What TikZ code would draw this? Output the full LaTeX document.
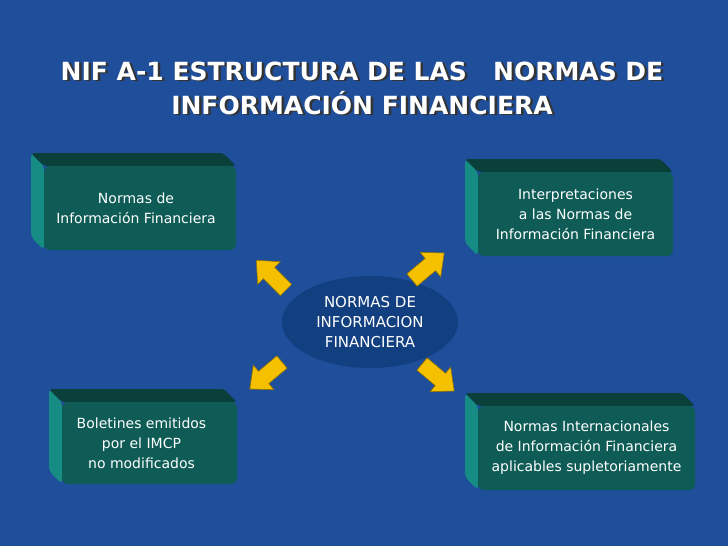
\documentclass[tikz,border=0pt]{standalone}
\usepackage{fontspec}
\setmainfont{DejaVu Sans}
\usetikzlibrary{shapes.geometric}
\definecolor{bg}{HTML}{1F4E9A}
\definecolor{front}{HTML}{0E5C55}
\definecolor{topf}{HTML}{0A3F3A}
\definecolor{side}{HTML}{168C84}
\definecolor{ell}{HTML}{123F80}
\definecolor{yel}{HTML}{F5C000}
\tikzset{
 x=1pt,y=-1pt,
 boxtext/.style={text=white,font=\fontsize{14}{20}\selectfont,align=center,inner sep=1pt},
 title/.style={text=white,font=\bfseries\fontsize{25}{34}\selectfont,align=center},
 shadowt/.style={text=black!80,font=\bfseries\fontsize{25}{34}\selectfont,align=center},
 pics/yarrow/.style={code={
   \fill[yel,draw=yel!60!black,line width=0.6pt] (0,-8)--(24,-8)--(24,-16)--(42,0)--(24,16)--(24,8)--(0,8)--cycle;}}
}
\newcommand{\threedbox}[5]{% x1 y1 x2 y2 name
 \fill[side,rounded corners=4pt] (#1-13,#2-13) -- (#1,#2) -- (#1,#4) -- (#1-13,#4-13) -- cycle;
 \fill[topf,rounded corners=3pt] (#1-13,#2-13) -- (#3-13,#2-13) -- (#3,#2) -- (#1,#2) -- cycle;
 \fill[front,rounded corners=6pt] (#1,#2) rectangle (#3,#4);
 \coordinate (#5) at ({(#1+#3)/2},{(#2+#4)/2});
}
\begin{document}
\begin{tikzpicture}
\fill[bg] (0,0) rectangle (728,546);
\useasboundingbox (0,0) rectangle (728,546);
\node[shadowt] (tshadow) at (364.5,89.5) {NIF A-1 ESTRUCTURA DE LAS \ \ NORMAS DE\\INFORMACIÓN FINANCIERA};
\node[title] (t) at (362,88) {NIF A-1 ESTRUCTURA DE LAS \ \ NORMAS DE\\INFORMACIÓN FINANCIERA};
\threedbox{44}{166}{236}{250}{b1}
\threedbox{478}{172}{673}{256}{b2}
\threedbox{62}{402}{237}{484}{b3}
\threedbox{478}{406}{695}{490}{b4}
\node[boxtext] (n1) at ([xshift=-4pt]b1) {Normas de\\Información Financiera};
\node[boxtext] (n2) at (b2) {Interpretaciones\\a las Normas de\\Información Financiera};
\node[boxtext] (n3) at ([xshift=-8pt]b3) {Boletines emitidos\\por el IMCP\\no modificados};
\node[boxtext] (n4) at (b4) {Normas Internacionales\\de Información Financiera\\aplicables supletoriamente};
\fill[ell] (370,322) ellipse (88 and 46);
\node[boxtext,font=\fontsize{15}{20}\selectfont] (c) at (370,322) {NORMAS DE\\INFORMACION\\FINANCIERA};
\pic[rotate=135] at (286,290) {yarrow};
\pic[rotate=40] at (412,280) {yarrow};
\pic[rotate=-140] at (282,362) {yarrow};
\pic[rotate=-40] at (422,364) {yarrow};
\end{tikzpicture}
\end{document}
